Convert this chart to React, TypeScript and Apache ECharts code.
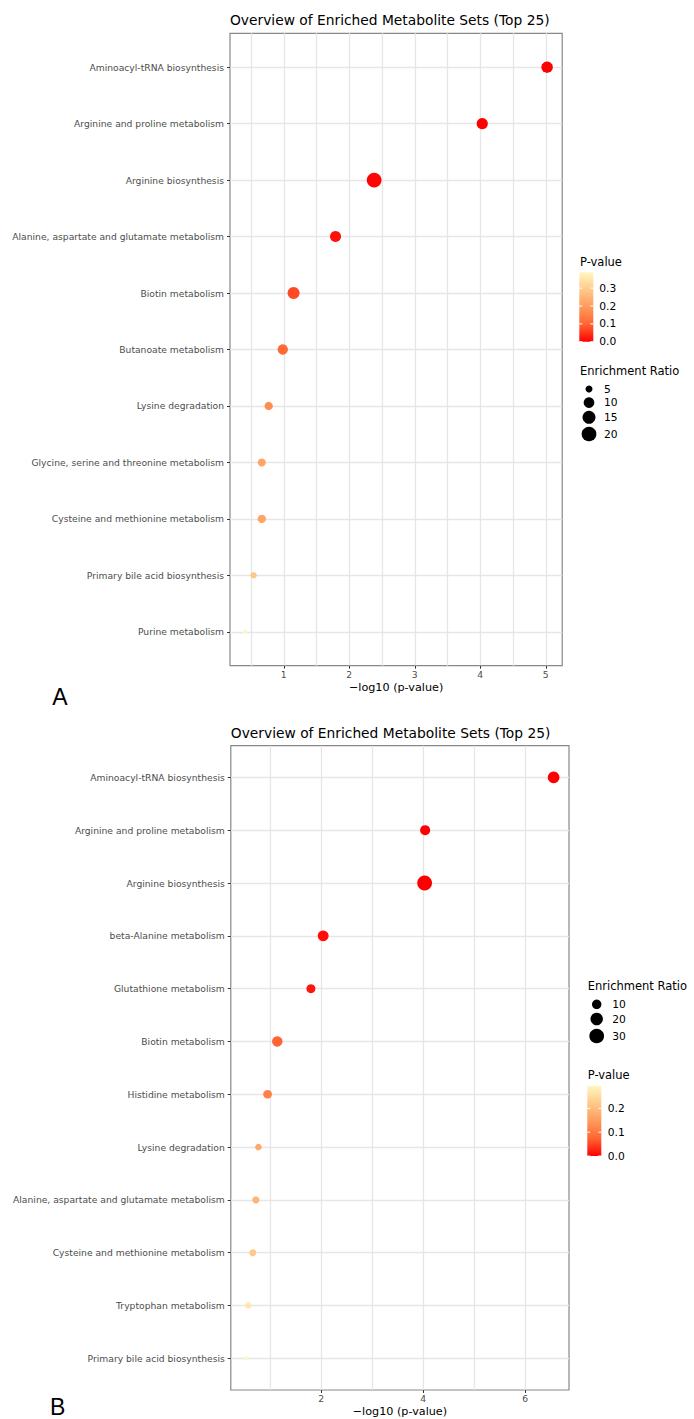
import React, { useEffect, useRef } from 'react';
import * as echarts from 'echarts';

// ---------- Data ----------
const catsA = [
  'Aminoacyl-tRNA biosynthesis',
  'Arginine and proline metabolism',
  'Arginine biosynthesis',
  'Alanine, aspartate and glutamate metabolism',
  'Biotin metabolism',
  'Butanoate metabolism',
  'Lysine degradation',
  'Glycine, serine and threonine metabolism',
  'Cysteine and methionine metabolism',
  'Primary bile acid biosynthesis',
  'Purine metabolism',
];
const logPA = [5.02, 4.03, 2.38, 1.79, 1.15, 0.985, 0.77, 0.665, 0.665, 0.54, 0.41];
const ratioA = [11.5, 11.0, 20.3, 10.7, 12.9, 9.4, 6.3, 6.0, 6.4, 4.5, 3.7];

const catsB = [
  'Aminoacyl-tRNA biosynthesis',
  'Arginine and proline metabolism',
  'Arginine biosynthesis',
  'beta-Alanine metabolism',
  'Glutathione metabolism',
  'Biotin metabolism',
  'Histidine metabolism',
  'Lysine degradation',
  'Alanine, aspartate and glutamate metabolism',
  'Cysteine and methionine metabolism',
  'Tryptophan metabolism',
  'Primary bile acid biosynthesis',
];
const logPB = [6.56, 4.04, 4.03, 2.04, 1.8, 1.14, 0.95, 0.77, 0.72, 0.66, 0.57, 0.53];
const ratioB = [16.9, 11.7, 30.5, 14.0, 8.9, 12.7, 8.2, 4.5, 5.4, 5.2, 4.4, 3.0];

const xLabelsA = [1, 2, 3, 4, 5];
const xGridA = [0.5, 1, 1.5, 2, 2.5, 3, 3.5, 4, 4.5, 5];
const xLabelsB = [2, 4, 6];
const xGridB = [1, 2, 3, 4, 5, 6];
const pBreaksA = [0, 0.1, 0.2, 0.3];
const pBreaksB = [0, 0.1, 0.2];
const sizeBreaksA = [5, 10, 15, 20];
const sizeBreaksB = [10, 20, 30];

const TITLE = 'Overview of Enriched Metabolite Sets (Top 25)';
const XNAME = '\u2212log10 (p-value)';

// ---------- Style ----------
const COLORS = ['#ff0000', '#ff6633', '#ff9a5c', '#ffc98a', '#fff7c2'];
const SIZE_RANGE = [4, 14.8];
const FONT = 'DejaVu Sans';
const GRID_COLOR = '#e6e6e6';
const AXIS_TEXT = '#4d4d4d';

function sizeScale(vals: number[]) {
  const lo = Math.min(...vals);
  const hi = Math.max(...vals);
  return (v: number) =>
    SIZE_RANGE[0] + (SIZE_RANGE[1] - SIZE_RANGE[0]) * Math.sqrt(Math.max(0, v - lo) / (hi - lo));
}

const panels = [
  {
    cats: catsA, logP: logPA, ratio: ratioA,
    xLabels: xLabelsA, xGrid: xGridA, pBreaks: pBreaksA, sizeBreaks: sizeBreaksA,
    grid: { left: 230, top: 33.3, width: 332.2, height: 632.4 },
    titleY: 20, xNameY: 687.7, letter: 'A', letterX: 60, letterY: 697,
    colorLeg: { titleX: 580, titleY: 261.7, barX: 579.3, barTop: 272.3, barBottom: 341.7, labelX: 599.3 },
    sizeLeg: { titleX: 580, titleY: 370.7, cx: 589, ys: [389, 402.7, 417.3, 434], labelX: 604 },
  },
  {
    cats: catsB, logP: logPB, ratio: ratioB,
    xLabels: xLabelsB, xGrid: xGridB, pBreaks: pBreaksB, sizeBreaks: sizeBreaksB,
    grid: { left: 230.8, top: 745.7, width: 338.2, height: 644.3 },
    titleY: 732.7, xNameY: 1411.7, letter: 'B', letterX: 57.6, letterY: 1406.5,
    colorLeg: { titleX: 587.7, titleY: 1075, barX: 587.3, barTop: 1085.7, barBottom: 1156, labelX: 607.7 },
    sizeLeg: { titleX: 587.7, titleY: 985.7, cx: 596.7, ys: [1004.3, 1019, 1036], labelX: 612.3 },
  },
];

function buildOption() {
  const grids: any[] = [];
  const xAxes: any[] = [];
  const yAxes: any[] = [];
  const series: any[] = [];
  const visualMaps: any[] = [];
  const elements: any[] = [];

  panels.forEach((P, pi) => {
    const n = P.cats.length;
    const pvals = P.logP.map((v) => Math.pow(10, -v));
    const pMin = Math.min(...pvals);
    const pMax = Math.max(...pvals);
    const xlo = Math.min(...P.logP);
    const xhi = Math.max(...P.logP);
    const pad = (xhi - xlo) * 0.05;
    const size = sizeScale(P.ratio);

    grids.push({
      left: P.grid.left, top: P.grid.top, width: P.grid.width, height: P.grid.height,
      show: true, borderColor: '#888888', borderWidth: 1.2, backgroundColor: 'transparent',
    });

    const xBase = {
      type: 'value', gridIndex: pi, position: 'bottom', min: xlo - pad, max: xhi + pad,
      axisLine: { show: false },
    };
    xAxes.push({
      ...xBase,
      axisTick: { show: false, customValues: P.xGrid },
      axisLabel: {
        customValues: P.xLabels, color: AXIS_TEXT, fontSize: 9.2, fontFamily: FONT, margin: 4,
        formatter: (v: number) => String(Math.round(v)),
      },
      splitLine: { show: true, lineStyle: { color: GRID_COLOR, width: 1.3 } },
    });
    xAxes.push({
      ...xBase,
      axisTick: { show: true, customValues: P.xLabels, length: 3, lineStyle: { color: '#333', width: 1 } },
      axisLabel: { show: false },
      splitLine: { show: false },
    });

    const idx = P.cats.map((_, i) => i);
    yAxes.push({
      type: 'value', gridIndex: pi, inverse: true, min: -0.6, max: n - 1 + 0.6,
      axisLine: { show: false },
      axisTick: { show: true, customValues: idx, length: 3, lineStyle: { color: '#333', width: 1 } },
      axisLabel: {
        customValues: idx, color: AXIS_TEXT, fontSize: 9.2, fontFamily: FONT, margin: 6,
        formatter: (v: number) => P.cats[Math.round(v)] ?? '',
      },
      splitLine: { show: true, lineStyle: { color: GRID_COLOR, width: 1.3 } },
    });

    series.push({
      type: 'scatter', xAxisIndex: pi * 2, yAxisIndex: pi, symbol: 'circle',
      data: P.cats.map((c, i) => [P.logP[i], i, P.ratio[i], pvals[i]]),
      symbolSize: (val: number[]) => size(val[2]),
      itemStyle: { opacity: 1 },
      z: 3,
    });

    visualMaps.push({
      type: 'continuous', show: false, seriesIndex: pi, dimension: 3,
      min: pMin, max: pMax, inRange: { color: COLORS },
    });

    elements.push({
      type: 'text', x: P.grid.left, y: P.titleY, silent: true,
      style: { text: TITLE, fontSize: 13.8, fontFamily: FONT, fill: '#000', align: 'left', verticalAlign: 'middle' },
    });
    elements.push({
      type: 'text', x: P.grid.left + P.grid.width / 2, y: P.xNameY, silent: true,
      style: { text: XNAME, fontSize: 11.2, fontFamily: FONT, fill: '#000', align: 'center', verticalAlign: 'middle' },
    });
    elements.push({
      type: 'text', x: P.letterX, y: P.letterY, silent: true,
      style: { text: P.letter, fontSize: 23, fontFamily: 'Liberation Sans', fill: '#000', align: 'center', verticalAlign: 'middle' },
    });

    const C = P.colorLeg;
    const barW = 14;
    const barH = C.barBottom - C.barTop;
    elements.push({
      type: 'text', x: C.titleX, y: C.titleY, silent: true,
      style: { text: 'P-value', fontSize: 11.5, fontFamily: FONT, fill: '#000', align: 'left', verticalAlign: 'middle' },
    });
    elements.push({
      type: 'rect', silent: true,
      shape: { x: C.barX, y: C.barTop, width: barW, height: barH },
      style: {
        fill: new echarts.graphic.LinearGradient(0, 1, 0, 0,
          COLORS.map((c, i) => ({ offset: i / (COLORS.length - 1), color: c }))),
      },
    });
    P.pBreaks.forEach((b) => {
      const y = C.barBottom - ((b - pMin) / (pMax - pMin)) * barH;
      elements.push({
        type: 'line', silent: true,
        shape: { x1: C.barX, y1: y, x2: C.barX + 3, y2: y },
        style: { stroke: '#fff', lineWidth: 1 },
      });
      elements.push({
        type: 'line', silent: true,
        shape: { x1: C.barX + barW - 3, y1: y, x2: C.barX + barW, y2: y },
        style: { stroke: '#fff', lineWidth: 1 },
      });
      elements.push({
        type: 'text', x: C.labelX, y, silent: true,
        style: { text: b.toFixed(1), fontSize: 10.7, fontFamily: FONT, fill: '#000', align: 'left', verticalAlign: 'middle' },
      });
    });

    const S = P.sizeLeg;
    elements.push({
      type: 'text', x: S.titleX, y: S.titleY, silent: true,
      style: { text: 'Enrichment Ratio', fontSize: 11.5, fontFamily: FONT, fill: '#000', align: 'left', verticalAlign: 'middle' },
    });
    P.sizeBreaks.forEach((b, i) => {
      elements.push({
        type: 'circle', silent: true,
        shape: { cx: S.cx, cy: S.ys[i], r: size(b) / 2 },
        style: { fill: '#000' },
      });
      elements.push({
        type: 'text', x: S.labelX, y: S.ys[i], silent: true,
        style: { text: String(b), fontSize: 10.7, fontFamily: FONT, fill: '#000', align: 'left', verticalAlign: 'middle' },
      });
    });
  });

  return {
    animation: false,
    backgroundColor: '#ffffff',
    textStyle: { fontFamily: FONT },
    grid: grids,
    xAxis: xAxes,
    yAxis: yAxes,
    visualMap: visualMaps,
    series,
    graphic: { elements },
  };
}

export default function App() {
  const ref = useRef<HTMLDivElement>(null);
  useEffect(() => {
    document.body.style.margin = '0';
    if (!ref.current) return;
    const chart = echarts.init(ref.current, undefined, { renderer: 'svg' });
    chart.setOption(buildOption() as any);
    return () => chart.dispose();
  }, []);
  return <div ref={ref} style={{ width: 694, height: 1419, background: '#fff' }} />;
}
